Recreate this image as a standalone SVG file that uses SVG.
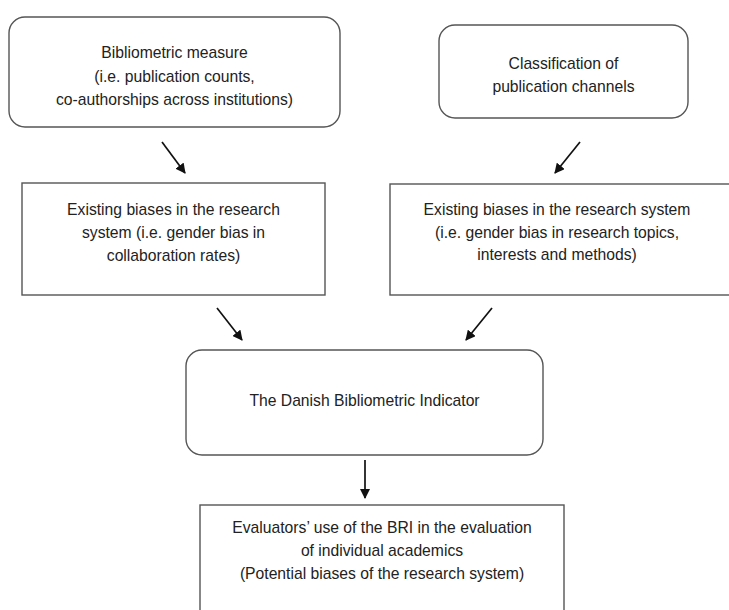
<svg xmlns="http://www.w3.org/2000/svg" width="729" height="610" viewBox="0 0 729 610">
<defs>
<style>
.box{fill:#fff;stroke:#555;stroke-width:1.4}
.t{font-family:"Liberation Sans",Arial,sans-serif;font-size:15.7px;fill:#222;text-anchor:middle}
.c{stroke:#111;stroke-width:1.7;fill:none}
</style>
<marker id="ah" viewBox="0 0 10 10" refX="9" refY="5" markerWidth="6" markerHeight="6" orient="auto-start-reverse" markerUnits="strokeWidth">
<path d="M0,0 L10,5 L0,10 z" fill="#111"/>
</marker>
</defs>
<rect width="729" height="610" fill="#fff"/>
<g id="n1">
<rect class="box" x="9" y="17" width="331" height="110" rx="16"/>
<text class="t" x="174.5" y="58">Bibliometric measure</text>
<text class="t" x="174.5" y="82">(i.e. publication counts,</text>
<text class="t" x="174.5" y="105">co-authorships across institutions)</text>
</g>
<g id="n2">
<rect class="box" x="439" y="25" width="249" height="93" rx="16"/>
<text class="t" x="563.5" y="69">Classification of</text>
<text class="t" x="563.5" y="92">publication channels</text>
</g>
<g id="n3">
<rect class="box" x="22" y="183" width="303" height="112"/>
<text class="t" x="173.5" y="215">Existing biases in the research</text>
<text class="t" x="173.5" y="238">system (i.e. gender bias in</text>
<text class="t" x="173.5" y="261">collaboration rates)</text>
</g>
<g id="n4">
<rect class="box" x="390" y="184" width="345" height="111"/>
<text class="t" x="557" y="215">Existing biases in the research system</text>
<text class="t" x="557" y="238">(i.e. gender bias in research topics,</text>
<text class="t" x="557" y="260">interests and methods)</text>
</g>
<g id="n5">
<rect class="box" x="186" y="350" width="357" height="105" rx="16"/>
<text class="t" x="364.5" y="406">The Danish Bibliometric Indicator</text>
</g>
<g id="n6">
<rect class="box" x="200" y="505" width="364" height="110"/>
<text class="t" x="382" y="533">Evaluators’ use of the BRI in the evaluation</text>
<text class="t" x="382" y="556">of individual academics</text>
<text class="t" x="382" y="579">(Potential biases of the research system)</text>
</g>
<g id="connectors">
<line class="c" x1="162" y1="142" x2="185" y2="173" marker-end="url(#ah)"/>
<line class="c" x1="580" y1="142" x2="555" y2="173" marker-end="url(#ah)"/>
<line class="c" x1="217" y1="308" x2="242" y2="340" marker-end="url(#ah)"/>
<line class="c" x1="492" y1="308" x2="466" y2="340" marker-end="url(#ah)"/>
<line class="c" x1="365" y1="460" x2="365" y2="498" marker-end="url(#ah)"/>
</g>
</svg>
